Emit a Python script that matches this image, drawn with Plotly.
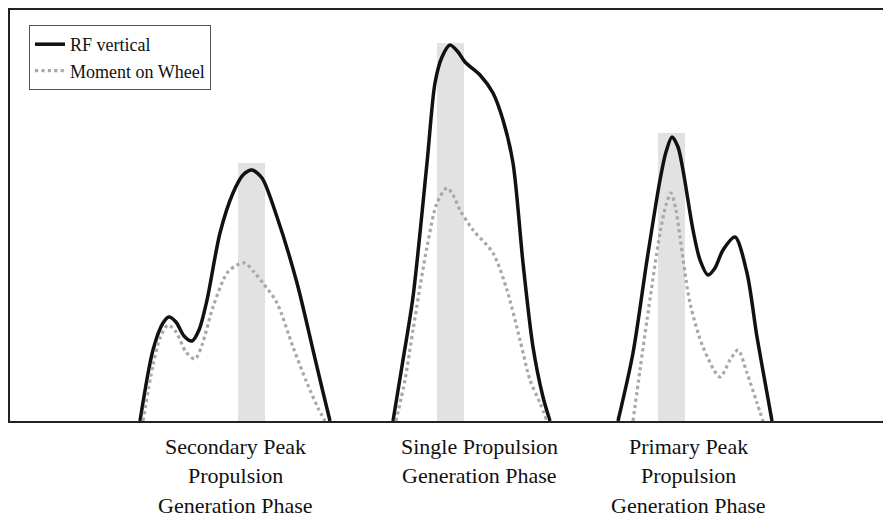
import plotly.graph_objects as go

# ---- data (time in samples, force/moment in arbitrary units) ----
rf_x1 = [132, 145, 155, 161, 168, 176, 184, 191, 199, 212, 225, 235, 244, 254, 269, 289, 305, 314, 322]
rf_y1 = [0, 71, 98, 104, 99, 85, 80, 91, 121, 188, 228, 246, 251, 243, 204, 138, 71, 33, 0]
rf_x2 = [385, 395, 405, 419, 427, 434, 442, 450, 457, 472, 485, 495, 505, 515, 525, 535, 542]
rf_y2 = [0, 61, 124, 258, 338, 364, 376, 369, 359, 346, 328, 301, 258, 158, 74, 24, 0]
rf_x3 = [610, 625, 639, 652, 658, 664, 670, 675, 685, 692, 700, 707, 715, 727, 739, 749, 759, 764]
rf_y3 = [0, 68, 161, 241, 269, 284, 274, 251, 191, 161, 146, 153, 171, 184, 148, 84, 28, 0]

mw_x1 = [135, 145, 152, 160, 168, 178, 187, 194, 205, 219, 229, 237, 246, 255, 269, 285, 299, 310, 317]
mw_y1 = [0, 56, 83, 96, 89, 69, 62, 76, 114, 148, 156, 158, 149, 138, 118, 74, 38, 13, 0]
mw_x2 = [388, 397, 405, 419, 429, 439, 445, 452, 465, 485, 499, 512, 522, 532, 539]
mw_y2 = [0, 41, 91, 174, 218, 233, 226, 211, 191, 168, 131, 81, 41, 18, 0]
mw_x3 = [625, 632, 639, 652, 658, 663, 668, 672, 682, 695, 712, 722, 730, 739, 749, 755]
mw_y3 = [0, 51, 101, 188, 216, 228, 211, 184, 118, 74, 44, 61, 71, 48, 18, 0]

band_x0 = [230, 429, 650]
band_x1 = [257, 456, 677]
band_top = [258, 378, 288]

phase_x = [227, 471, 680]
phase_lines = [
    ["Secondary Peak", "Propulsion", "Generation Phase"],
    ["Single Propulsion", "Generation Phase"],
    ["Primary Peak", "Propulsion", "Generation Phase"],
]

def join(*segs):
    xs, ys = [], []
    for sx, sy in segs:
        xs += sx + [None]
        ys += sy + [None]
    return xs, ys

rf_x, rf_y = join((rf_x1, rf_y1), (rf_x2, rf_y2), (rf_x3, rf_y3))
mw_x, mw_y = join((mw_x1, mw_y1), (mw_x2, mw_y2), (mw_x3, mw_y3))

FONT = "Liberation Serif"
PLOT_H = 411  # plot-area height in px
fig = go.Figure()
fig.add_trace(go.Scatter(x=rf_x, y=rf_y, mode="lines", name="RF vertical",
                         line=dict(color="#111111", width=3.5, shape="spline", smoothing=0.8),
                         connectgaps=False))
fig.add_trace(go.Scatter(x=mw_x, y=mw_y, mode="lines", name="Moment on Wheel",
                         line=dict(color="#a8a8a8", width=3.2, dash="dot", shape="spline", smoothing=0.8),
                         connectgaps=False))

shapes = []
for x0, x1, top in zip(band_x0, band_x1, band_top):
    shapes.append(dict(type="rect", xref="x", yref="y", x0=x0, x1=x1, y0=0, y1=top,
                       fillcolor="#e2e2e2", line=dict(width=0), layer="below"))

annotations = []
line_py = [446, 475, 505]
for cx, lines in zip(phase_x, phase_lines):
    for i, t in enumerate(lines):
        annotations.append(dict(x=cx, xref="x", y=(421 - line_py[i]) / PLOT_H, yref="paper",
                                text=t, showarrow=False, xanchor="center", yanchor="middle",
                                font=dict(family=FONT, size=22, color="#111111")))

fig.update_layout(
    width=885, height=521,
    margin=dict(l=2, r=0, t=2, b=521 - 2 - PLOT_H, pad=0),
    plot_bgcolor="white", paper_bgcolor="white",
    shapes=shapes, annotations=annotations,
    showlegend=True,
    legend=dict(x=(29 - 10) / 883, y=(421 - 25) / PLOT_H, xanchor="left", yanchor="top",
                bordercolor="#555555", borderwidth=1, bgcolor="white",
                font=dict(family=FONT, size=18, color="#111111"),
                itemwidth=30, tracegroupgap=0),
    xaxis=dict(range=[2, 885], showgrid=False, zeroline=False, showticklabels=False, ticks="",
               showline=True, linecolor="#222222", linewidth=2, mirror=True),
    yaxis=dict(range=[0, PLOT_H], showgrid=False, zeroline=False, showticklabels=False, ticks="",
               showline=True, linecolor="#222222", linewidth=2, mirror=False),
)

fig.write_html("out.html")
